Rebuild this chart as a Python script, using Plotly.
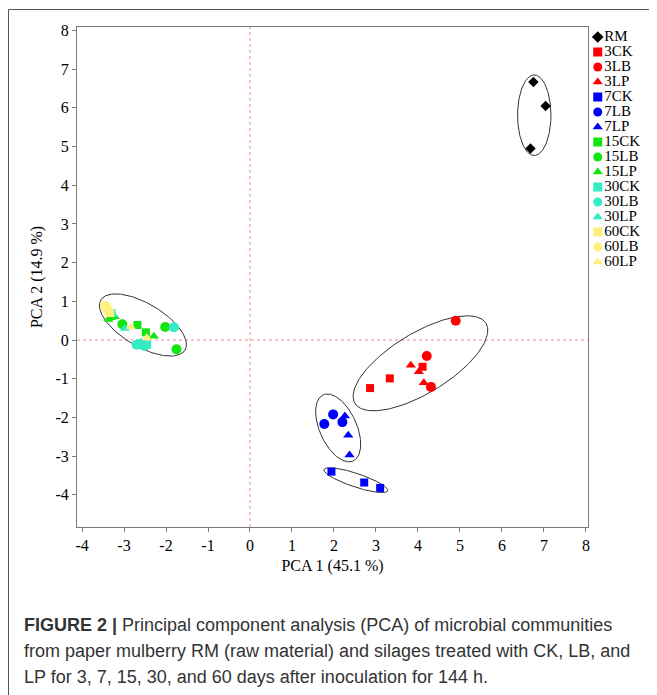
import numpy as np
import plotly.graph_objects as go

# ---------------- data ----------------
groups = ["RM", "3CK", "3LB", "3LP", "7CK", "7LB", "7LP", "15CK", "15LB", "15LP",
          "30CK", "30LB", "30LP", "60CK", "60LB", "60LP"]
group_colors = ["#000000", "#FF0000", "#FF0000", "#FF0000", "#0000FF", "#0000FF", "#0000FF",
                "#11E611", "#11E611", "#11E611", "#33EBC4", "#33EBC4", "#33EBC4",
                "#FFF07E", "#FFF07E", "#FFF07E"]
group_symbols = ["diamond", "square", "circle", "triangle-up", "square", "circle", "triangle-up",
                 "square", "circle", "triangle-up", "square", "circle", "triangle-up",
                 "square", "circle", "triangle-up"]

rm_x = [6.75, 7.04, 6.68];      rm_y = [6.67, 6.05, 4.95]
ck3_x = [2.86, 3.33, 4.11];     ck3_y = [-1.24, -0.99, -0.69]
lb3_x = [4.90, 4.21, 4.31];     lb3_y = [0.50, -0.41, -1.21]
lp3_x = [3.83, 4.02, 4.14];     lp3_y = [-0.65, -0.82, -1.10]
ck7_x = [1.94, 2.72, 3.10];     ck7_y = [-3.40, -3.68, -3.82]
lb7_x = [1.98, 1.77, 2.20];     lb7_y = [-1.92, -2.17, -2.12]
lp7_x = [2.26, 2.34, 2.37];     lp7_y = [-1.96, -2.46, -2.97]
ck15_x = [-3.30, -2.68, -2.48]; ck15_y = [0.62, 0.39, 0.20]
lb15_x = [-3.04, -2.02, -1.75]; lb15_y = [0.41, 0.34, -0.24]
lp15_x = [-3.37, -3.22, -2.29]; lp15_y = [0.53, 0.60, 0.10]
ck30_x = [-3.30, -2.62, -2.45]; ck30_y = [0.70, -0.08, -0.12]
lb30_x = [-2.70, -2.52, -1.81]; lb30_y = [-0.12, -0.15, 0.33]
lp30_x = [-3.27, -2.98, -2.60]; lp30_y = [0.66, 0.30, -0.05]
ck60_x = [-3.42, -3.38, -3.33]; ck60_y = [0.85, 0.78, 0.70]
lb60_x = [-3.45, -3.40, -3.36]; lb60_y = [0.88, 0.80, 0.72]
lp60_x = [-3.38, -2.84, -2.46]; lp60_y = [0.78, 0.34, 0.06]

xs = [rm_x, ck3_x, lb3_x, lp3_x, ck7_x, lb7_x, lp7_x, ck15_x, lb15_x, lp15_x,
      ck30_x, lb30_x, lp30_x, ck60_x, lb60_x, lp60_x]
ys = [rm_y, ck3_y, lb3_y, lp3_y, ck7_y, lb7_y, lp7_y, ck15_y, lb15_y, lp15_y,
      ck30_y, lb30_y, lp30_y, ck60_y, lb60_y, lp60_y]

# ellipses: centre (data units), semi-axes (screen px), rotation (deg)
ell_cx = [6.77, 4.06, 2.10, 2.52, -2.55]
ell_cy = [5.81, -0.60, -2.27, -3.62, 0.39]
ell_a = [16.7, 76.8, 36.3, 33.6, 49.0]
ell_b = [40.3, 30.0, 18.5, 6.8, 21.5]
ell_angle = [0.0, 31.4, 114.4, -18.5, -30.7]

x_ticks = list(range(-4, 9))
y_ticks = list(range(-4, 9))
x_tick_labels = [str(v) for v in x_ticks]
y_tick_labels = [str(v) for v in y_ticks]
x_range = [-4.12, 8.05]
y_range = [-4.83, 8.09]

caption_lines = [
    "<b>FIGURE 2 |</b> Principal component analysis (PCA) of microbial communities",
    "from paper mulberry RM (raw material) and silages treated with CK, LB, and",
    "LP for 3, 7, 15, 30, and 60 days after inoculation for 144 h.",
]

# ---------------- layout geometry ----------------
OFF = 8                      # page body margin
W, H = 657 - OFF, 695 - OFF
ML, MT = 77 - OFF, 27 - OFF
plot_w_px, PH = 511, 500
MB = H - MT - PH
MR = 0
PW = W - ML - MR
x_dom_end = plot_w_px / PW
sx = plot_w_px / (x_range[1] - x_range[0])
sy = PH / (y_range[1] - y_range[0])


def px_to_paper_x(px):
    return (px - OFF - ML) / PW


def px_to_paper_y(py):
    return (MT + PH - (py - OFF)) / PH


SERIF = "Liberation Serif, Times New Roman, serif"
SANS = "Liberation Sans, Arial, sans-serif"

fig = go.Figure()

# ellipses
phi = np.linspace(0, 2 * np.pi, 200)
for cx, cy, a, b, ang in zip(ell_cx, ell_cy, ell_a, ell_b, ell_angle):
    t = np.deg2rad(ang)
    dx = a * np.cos(phi) * np.cos(t) - b * np.sin(phi) * np.sin(t)
    dy = a * np.cos(phi) * np.sin(t) + b * np.sin(phi) * np.cos(t)
    fig.add_trace(go.Scatter(x=cx + dx / sx, y=cy + dy / sy, mode="lines",
                             line=dict(color="#333333", width=1), hoverinfo="skip",
                             showlegend=False))

# points
for name, col, sym, gx, gy in zip(groups, group_colors, group_symbols, xs, ys):
    size = {"square": 8, "diamond": 8, "circle": 10, "triangle-up": 9}[sym]
    fig.add_trace(go.Scatter(x=gx, y=gy, mode="markers", name=name,
                             marker=dict(color=col, symbol=sym, size=size, line=dict(width=0)),
                             showlegend=False))

# custom legend (compact spacing)
leg_y = [10 + 15 * i for i in range(len(groups))]
fig.add_trace(go.Scatter(x=[5.7] * len(groups), y=leg_y, xaxis="x2", yaxis="y2",
                         mode="markers+text", text=groups, textposition="middle right",
                         textfont=dict(family=SERIF, size=15, color="#000000"),
                         marker=dict(color=group_colors, symbol=group_symbols, size=9,
                                     line=dict(width=0)),
                         cliponaxis=False, showlegend=False, hoverinfo="skip"))

axis_common = dict(showgrid=False, zeroline=False, showline=True, mirror=True,
                   linecolor="#7a7a7a", linewidth=1, ticks="outside", ticklen=4,
                   tickcolor="#7a7a7a", tickfont=dict(family=SERIF, size=16, color="#000"),
                   automargin=False)

fig.update_layout(
    width=W, height=H,
    margin=dict(l=ML, r=MR, t=MT, b=MB),
    paper_bgcolor="white", plot_bgcolor="white",
    xaxis=dict(range=x_range, domain=[0, x_dom_end], tickvals=x_ticks, ticktext=x_tick_labels,
               title=dict(text="PCA 1 (45.1 %)", font=dict(family=SERIF, size=16, color="#000"),
                          standoff=6),
               **axis_common),
    yaxis=dict(range=y_range, domain=[0, 1], tickvals=y_ticks, ticktext=y_tick_labels,
               title=dict(text="PCA 2 (14.9 %)", font=dict(family=SERIF, size=16, color="#000"),
                          standoff=8),
               **axis_common),
    xaxis2=dict(domain=[0.888, 1.0], range=[0, 65], anchor="y2", visible=False),
    yaxis2=dict(domain=[0, 1], range=[500, 0], anchor="x2", visible=False),
    shapes=[
        dict(type="line", xref="x", yref="y domain", x0=0, x1=0, y0=0, y1=1,
             line=dict(color="#F08A8A", width=1, dash="dot"), layer="below"),
        dict(type="line", xref="x domain", yref="y", x0=0, x1=1, y0=0, y1=0,
             line=dict(color="#F08A8A", width=1, dash="dot"), layer="below"),
        # outer figure frame (top and left)
        dict(type="line", xref="paper", yref="paper",
             x0=px_to_paper_x(8.5), x1=1.0, y0=px_to_paper_y(9.5), y1=px_to_paper_y(9.5),
             line=dict(color="#555555", width=1)),
        dict(type="line", xref="paper", yref="paper",
             x0=px_to_paper_x(8.5), x1=px_to_paper_x(8.5), y0=px_to_paper_y(9.5),
             y1=px_to_paper_y(695),
             line=dict(color="#555555", width=1)),
    ],
)

cap_y_px = [625, 651, 677]
for txt, ypx in zip(caption_lines, cap_y_px):
    fig.add_annotation(text=txt, xref="paper", yref="paper",
                       x=px_to_paper_x(22), y=px_to_paper_y(ypx),
                       xanchor="left", yanchor="middle", showarrow=False,
                       font=dict(family=SANS, size=18, color="#333333"))

fig.write_html("out.html")
